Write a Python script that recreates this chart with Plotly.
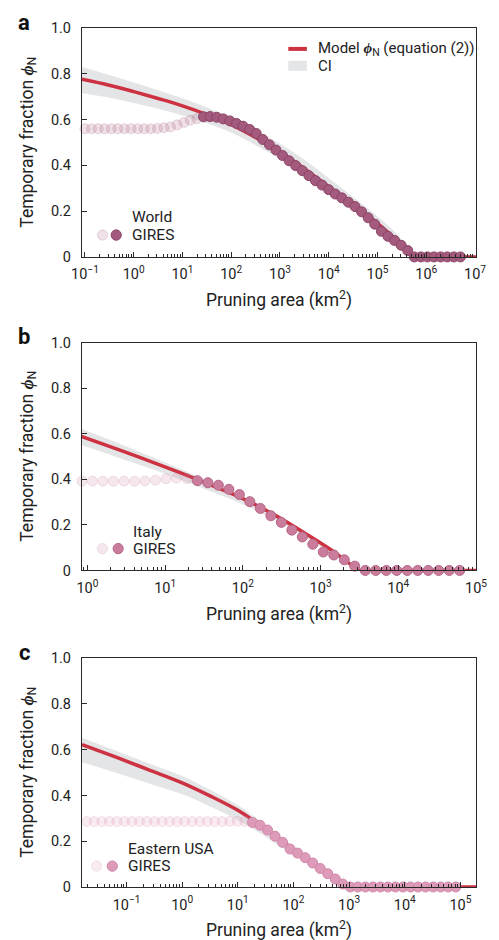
import plotly.graph_objects as go

# ---------------- data (log10 of pruning area, km^2) ----------------
a_logx = [-1.00, -0.865, -0.73, -0.595, -0.46, -0.324, -0.189, -0.054, 0.081, 0.216,
          0.351, 0.486, 0.621, 0.756, 0.891, 1.027, 1.162, 1.297, 1.432, 1.567,
          1.702, 1.837, 1.972, 2.107, 2.242, 2.378, 2.513, 2.648, 2.783, 2.918,
          3.053, 3.188, 3.323, 3.458, 3.593, 3.729, 3.864, 3.999, 4.134, 4.269,
          4.404, 4.539, 4.674, 4.809, 4.944, 5.08, 5.215, 5.35, 5.485, 5.62,
          5.755, 5.89, 6.025, 6.16, 6.295, 6.431, 6.566, 6.701]
a_phi = [0.56, 0.56, 0.56, 0.56, 0.56, 0.56, 0.56, 0.56, 0.56, 0.56,
         0.56, 0.561, 0.564, 0.568, 0.577, 0.587, 0.597, 0.604, 0.612, 0.613,
         0.61, 0.603, 0.594, 0.583, 0.571, 0.557, 0.539, 0.513, 0.49, 0.467,
         0.443, 0.42, 0.399, 0.377, 0.355, 0.333, 0.314, 0.294, 0.275, 0.258,
         0.239, 0.22, 0.197, 0.171, 0.143, 0.112, 0.09, 0.072, 0.051, 0.028,
         0.0, 0.0, 0.0, 0.0, 0.0, 0.0, 0.0, 0.0]
a_n_light = 18
a_model_logx = [-1.06, -0.5, 0.0, 0.5, 1.0, 1.5, 2.0, 2.5, 3.0, 3.5, 4.0, 4.5, 5.0, 5.4, 5.75, 7.02]
a_model = [0.776, 0.75, 0.722, 0.692, 0.66, 0.622, 0.578, 0.522, 0.458, 0.386, 0.307, 0.228, 0.147, 0.072, 0.0, 0.0]
a_ci_hi = [0.83, 0.795, 0.762, 0.728, 0.693, 0.653, 0.608, 0.555, 0.495, 0.424, 0.344, 0.262, 0.177, 0.10, 0.0, 0.0]
a_ci_lo = [0.716, 0.695, 0.672, 0.647, 0.618, 0.584, 0.543, 0.488, 0.428, 0.359, 0.282, 0.205, 0.125, 0.055, 0.0, 0.0]

b_logx = [-0.07, 0.065, 0.20, 0.335, 0.47, 0.605, 0.74, 0.875, 1.01, 1.145,
          1.28, 1.415, 1.55, 1.685, 1.82, 1.955, 2.09, 2.225, 2.36, 2.495,
          2.63, 2.765, 2.90, 3.035, 3.17, 3.305, 3.44, 3.575, 3.71, 3.845,
          3.98, 4.115, 4.25, 4.385, 4.52, 4.655, 4.79]
b_phi = [0.392, 0.392, 0.392, 0.392, 0.392, 0.392, 0.393, 0.396, 0.402, 0.405,
         0.403, 0.394, 0.385, 0.374, 0.356, 0.333, 0.302, 0.272, 0.24, 0.211,
         0.177, 0.147, 0.115, 0.081, 0.068, 0.047, 0.019, 0.0, 0.0, 0.0,
         0.0, 0.0, 0.0, 0.0, 0.0, 0.0, 0.0]
b_n_light = 11
b_model_logx = [-0.08, 0.4, 0.8, 1.2, 1.6, 2.0, 2.4, 2.8, 3.2, 3.48, 5.0]
b_model = [0.588, 0.53, 0.48, 0.428, 0.373, 0.315, 0.245, 0.163, 0.075, 0.0, 0.0]
b_ci_hi = [0.622, 0.558, 0.502, 0.445, 0.386, 0.325, 0.253, 0.169, 0.079, 0.0, 0.0]
b_ci_lo = [0.55, 0.495, 0.448, 0.398, 0.345, 0.29, 0.223, 0.145, 0.063, 0.0, 0.0]

c_logx = [-1.714, -1.579, -1.443, -1.308, -1.173, -1.038, -0.902, -0.767, -0.632, -0.496,
          -0.361, -0.226, -0.09, 0.045, 0.18, 0.316, 0.451, 0.586, 0.721, 0.857,
          0.992, 1.127, 1.263, 1.398, 1.533, 1.669, 1.804, 1.939, 2.074, 2.21,
          2.345, 2.48, 2.616, 2.751, 2.886, 3.022, 3.157, 3.292, 3.427, 3.563,
          3.698, 3.833, 3.969, 4.104, 4.239, 4.374, 4.51, 4.645, 4.78, 4.916]
c_phi = [0.286, 0.286, 0.286, 0.286, 0.286, 0.286, 0.286, 0.286, 0.286, 0.286,
         0.286, 0.286, 0.286, 0.286, 0.286, 0.286, 0.286, 0.286, 0.286, 0.287,
         0.287, 0.287, 0.282, 0.27, 0.249, 0.222, 0.195, 0.166, 0.148, 0.128,
         0.105, 0.081, 0.058, 0.035, 0.013, 0.0, 0.0, 0.0, 0.0, 0.0,
         0.0, 0.0, 0.0, 0.0, 0.0, 0.0, 0.0, 0.0, 0.0, 0.0]
c_n_light = 22
c_model_logx = [-1.80, -1.2, -0.6, 0.0, 0.5, 1.0, 1.4, 1.8, 2.2, 2.6, 2.95, 5.28]
c_model = [0.622, 0.568, 0.512, 0.455, 0.398, 0.335, 0.27, 0.199, 0.129, 0.06, 0.0, 0.0]
c_ci_hi = [0.652, 0.596, 0.54, 0.485, 0.425, 0.357, 0.288, 0.213, 0.14, 0.067, 0.0, 0.0]
c_ci_lo = [0.545, 0.5, 0.452, 0.405, 0.352, 0.293, 0.235, 0.172, 0.11, 0.048, 0.0, 0.0]

panel_letters = ["a", "b", "c"]
region_names = ["World", "Italy", "Eastern USA"]
dataset_name = "GIRES"
a_ticks = [-1, 0, 1, 2, 3, 4, 5, 6, 7]
b_ticks = [0, 1, 2, 3, 4, 5]
c_ticks = [-1, 0, 1, 2, 3, 4, 5]
y_ticks = [0, 0.2, 0.4, 0.6, 0.8, 1.0]
y_ticklabels = ["0", "0.2", "0.4", "0.6", "0.8", "1.0"]

# ---------------- layout geometry ----------------
# page body has an 8px margin, so the figure is drawn 8px in from the window corner
OFF = 8
WF, HF = 491, 932
ML, MR, MT, MB = 74, 14, 16, 53
PW, PH = WF - ML - MR, HF - MT - MB


def px(x):
    return (x - OFF - ML) / PW


def py(y):
    return (HF - MB - (y - OFF)) / PH


FONT = "Roboto"
RED = "#cd3242"
BAND = "#e4e5e7"
AXC = "#2a2a2a"
TXT = "#222222"

panels = [
    dict(logx=a_logx, phi=a_phi, nl=a_n_light, mx=a_model_logx, m=a_model, hi=a_ci_hi, lo=a_ci_lo,
         ticks=a_ticks, rng=[-1.06, 7.02], top=24, bot=254,
         fill="rgba(164,90,124,1)", edge="rgba(140,69,103,1)",
         lfill="rgba(164,90,124,0.18)", ledge="rgba(140,69,103,0.18)",
         leg=(103, 117, 232, 131, 214)),
    dict(logx=b_logx, phi=b_phi, nl=b_n_light, mx=b_model_logx, m=b_model, hi=b_ci_hi, lo=b_ci_lo,
         ticks=b_ticks, rng=[-0.07, 5.0], top=340, bot=569,
         fill="rgba(202,124,156,1)", edge="rgba(182,103,136,1)",
         lfill="rgba(202,124,156,0.18)", ledge="rgba(182,103,136,0.18)",
         leg=(103, 119, 547, 132, 530)),
    dict(logx=c_logx, phi=c_phi, nl=c_n_light, mx=c_model_logx, m=c_model, hi=c_ci_hi, lo=c_ci_lo,
         ticks=c_ticks, rng=[-1.80, 5.28], top=657, bot=887,
         fill="rgba(222,155,185,1)", edge="rgba(208,136,168,1)",
         lfill="rgba(222,155,185,0.2)", ledge="rgba(208,136,168,0.2)",
         leg=(97, 113, 866, 127, 849)),
]

fig = go.Figure()
annotations = []
shapes = []


def sup(v):
    s = str(v).replace("-", "\u2212")
    return "10<sup>" + s + "</sup>"


for i, p in enumerate(panels):
    n = "" if i == 0 else str(i + 1)
    xa, ya = "x" + n, "y" + n
    mx = [10 ** v for v in p["mx"]]
    k = p["m"].index(0.0)
    # CI band
    fig.add_trace(go.Scatter(x=mx[:k + 1], y=p["lo"][:k + 1], mode="lines",
                             line=dict(width=0, shape="spline", color=BAND),
                             xaxis=xa, yaxis=ya, showlegend=False, hoverinfo="skip"))
    fig.add_trace(go.Scatter(x=mx[:k + 1], y=p["hi"][:k + 1], mode="lines",
                             line=dict(width=0, shape="spline", color=BAND),
                             fill="tonexty", fillcolor=BAND,
                             xaxis=xa, yaxis=ya, showlegend=False, hoverinfo="skip"))
    # model line
    fig.add_trace(go.Scatter(x=mx[:k + 1], y=p["m"][:k + 1], mode="lines",
                             line=dict(width=3.5, shape="spline", color=RED),
                             xaxis=xa, yaxis=ya, showlegend=False))
    fig.add_trace(go.Scatter(x=mx[k:], y=p["m"][k:], mode="lines",
                             line=dict(width=3.5, color=RED),
                             xaxis=xa, yaxis=ya, showlegend=False))
    # data points
    xs = [10 ** v for v in p["logx"]]
    nl = p["nl"]
    fig.add_trace(go.Scatter(x=xs[:nl], y=p["phi"][:nl], mode="markers",
                             marker=dict(size=10, color=p["lfill"], line=dict(width=1, color=p["ledge"])),
                             xaxis=xa, yaxis=ya, showlegend=False, cliponaxis=False))
    fig.add_trace(go.Scatter(x=xs[nl:], y=p["phi"][nl:], mode="markers",
                             marker=dict(size=10, color=p["fill"], line=dict(width=1, color=p["edge"])),
                             xaxis=xa, yaxis=ya, showlegend=False, cliponaxis=False))

    dom_y = [py(p["bot"]), py(p["top"])]
    xaxis = dict(type="log", range=p["rng"], domain=[0, 1], anchor=ya,
                 tickmode="array", tickvals=[10 ** t for t in p["ticks"]],
                 ticktext=[sup(t) for t in p["ticks"]],
                 ticks="inside", ticklen=5, tickwidth=1, tickcolor=AXC,
                 minor=dict(ticks="inside", ticklen=3, tickwidth=1, tickcolor=AXC, dtick="D1", showgrid=False),
                 showline=True, linecolor=AXC, linewidth=1.2, mirror=True,
                 showgrid=False, zeroline=False, ticklabelstandoff=4,
                 tickfont=dict(family=FONT, size=14.5, color=TXT))
    yaxis = dict(range=[0, 1], domain=dom_y, anchor=xa,
                 tickmode="array", tickvals=y_ticks, ticktext=y_ticklabels,
                 ticks="inside", ticklen=5, tickwidth=1, tickcolor=AXC,
                 showline=True, linecolor=AXC, linewidth=1.2, mirror=True,
                 showgrid=False, zeroline=False, ticklabelstandoff=7,
                 tickfont=dict(family=FONT, size=14.5, color=TXT))
    fig.update_layout(**{"xaxis" + n: xaxis, "yaxis" + n: yaxis})

    # axis titles
    annotations.append(dict(x=px(27), y=py((p["top"] + p["bot"]) / 2), xref="paper", yref="paper",
                            text="Temporary fraction <b><i>\u03d5</i></b><sub>N</sub>", textangle=-90,
                            showarrow=False, xanchor="center", yanchor="middle",
                            font=dict(family=FONT, size=17.5, color=TXT)))
    annotations.append(dict(x=px(284), y=py(p["bot"] + 43), xref="paper", yref="paper",
                            text="Pruning area (km<sup>2</sup>)", showarrow=False,
                            xanchor="center", yanchor="middle",
                            font=dict(family=FONT, size=17.5, color=TXT)))
    # panel letter
    annotations.append(dict(x=px(23), y=py(p["top"] - 6), xref="paper", yref="paper",
                            text="<b>" + panel_letters[i] + "</b>", showarrow=False,
                            xanchor="center", yanchor="middle",
                            font=dict(family=FONT, size=22, color="#111")))
    # region legend
    cx1, cx2, cy, tx, ty = p["leg"]
    r = 5.2
    shapes.append(dict(type="circle", xref="paper", yref="paper",
                       x0=px(cx1 - r), x1=px(cx1 + r), y0=py(cy + r), y1=py(cy - r),
                       fillcolor=p["lfill"], line=dict(color=p["ledge"], width=1)))
    shapes.append(dict(type="circle", xref="paper", yref="paper",
                       x0=px(cx2 - r), x1=px(cx2 + r), y0=py(cy + r), y1=py(cy - r),
                       fillcolor=p["fill"], line=dict(color=p["edge"], width=1)))
    annotations.append(dict(x=px(tx), y=py(ty), xref="paper", yref="paper", text=region_names[i],
                            showarrow=False, xanchor="left", yanchor="middle",
                            font=dict(family=FONT, size=15.5, color=TXT)))
    annotations.append(dict(x=px(tx), y=py(cy), xref="paper", yref="paper", text=dataset_name,
                            showarrow=False, xanchor="left", yanchor="middle",
                            font=dict(family=FONT, size=15.5, color=TXT)))

# model legend (panel a)
shapes.append(dict(type="line", xref="paper", yref="paper", x0=px(293), x1=px(312),
                   y0=py(45), y1=py(45), line=dict(color=RED, width=4)))
shapes.append(dict(type="rect", xref="paper", yref="paper", x0=px(293), x1=px(312),
                   y0=py(67), y1=py(57), fillcolor=BAND, line=dict(width=0)))
annotations.append(dict(x=px(321), y=py(45), xref="paper", yref="paper",
                        text="Model <b><i>\u03d5</i></b><sub>N</sub> (equation (2))", showarrow=False,
                        xanchor="left", yanchor="middle", font=dict(family=FONT, size=15, color=TXT)))
annotations.append(dict(x=px(321), y=py(62), xref="paper", yref="paper", text="CI", showarrow=False,
                        xanchor="left", yanchor="middle", font=dict(family=FONT, size=15, color=TXT)))

fig.update_layout(width=WF, height=HF, margin=dict(l=ML, r=MR, t=MT, b=MB),
                  paper_bgcolor="white", plot_bgcolor="white",
                  annotations=annotations, shapes=shapes, showlegend=False)
fig.write_html("out.html")
